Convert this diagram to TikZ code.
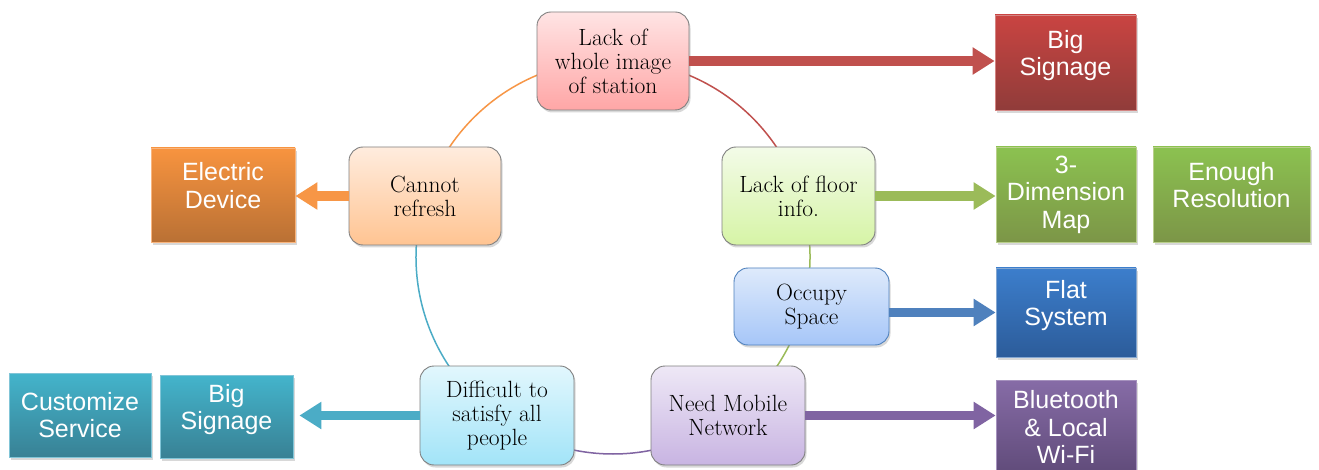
\documentclass[tikz,border=0pt]{standalone}
\usepackage{fontspec}
\newfontfamily\boxfont{Liberation Sans}
\usetikzlibrary{arrows.meta,shadows}

\definecolor{cRed}{HTML}{C0504D}
\definecolor{cGreen}{HTML}{9BBB59}
\definecolor{cBlue}{HTML}{4F81BD}
\definecolor{cPurple}{HTML}{8064A2}
\definecolor{cOrange}{HTML}{F79646}
\definecolor{cCyan}{HTML}{4BACC6}
\definecolor{flatT}{HTML}{3C7ECC}
\definecolor{flatB}{HTML}{2C5C9A}

% light fills of the problem boxes (top / bottom)
\definecolor{wholeT}{HTML}{FFE4E4}\definecolor{wholeB}{HTML}{FFA6A6}
\definecolor{floorT}{HTML}{F3FBE8}\definecolor{floorB}{HTML}{D6F4A6}
\definecolor{occT}{HTML}{DEEAFB}\definecolor{occB}{HTML}{A6C6F8}
\definecolor{mobT}{HTML}{EEE8F6}\definecolor{mobB}{HTML}{C8B4E2}
\definecolor{satT}{HTML}{E2F7FD}\definecolor{satB}{HTML}{A2E4F8}
\definecolor{refT}{HTML}{FFECDE}\definecolor{refB}{HTML}{FFC492}

% lift a block of lines above the box centre by #1
\newcommand\liftup[2][0pt]{\raisebox{0pt}[\height][\dimexpr\depth+2\dimexpr#1\relax\relax]{\begin{tabular}{@{}c@{}}#2\end{tabular}}}

\tikzset{
  issue/.style={rounded corners=14pt, draw=black!50, line width=0.9pt,
    align=center, inner sep=2pt,
    font=\fontsize{23.5}{24}\selectfont,
    drop shadow={shadow xshift=1.5pt, shadow yshift=-2.5pt, opacity=0.3}},
  answer/.style={align=center, inner sep=0pt, text=white, line width=0.8pt,
    font=\boxfont\fontsize{25}{27.5}\selectfont,
    drop shadow={shadow xshift=1.5pt, shadow yshift=-3pt, opacity=0.3}},
  fat/.style={line width=9.5pt, -{Triangle[length=22pt,width=26pt]}},
  ring/.style={line width=1.5pt}
}

\begin{document}
\begin{tikzpicture}[x=1pt,y=-1pt]
\useasboundingbox[fill=white] (0,0) rectangle (1319,470);

% the cycle of problems
\coordinate (hub) at (613,257);
\draw[ring,cOrange] (hub) ++(162:197pt) arc[start angle=162,end angle=90,radius=197pt];
\draw[ring,cRed]    (hub) ++(90:197pt)  arc[start angle=90,end angle=18,radius=197pt];
\draw[ring,cGreen]  (hub) ++(18:197pt)  arc[start angle=18,end angle=-54,radius=197pt];
\draw[ring,cPurple] (hub) ++(-54:197pt) arc[start angle=-54,end angle=-126,radius=197pt];
\draw[ring,cCyan]   (hub) ++(-126:197pt) arc[start angle=-126,end angle=-198,radius=197pt];

% problems
\node[issue, minimum width=152pt, minimum height=98pt,
  top color=wholeT, bottom color=wholeB] (whole) at (613,61)
  {Lack of\\whole image\\of station};
\node[issue, minimum width=153pt, minimum height=98pt,
  top color=floorT, bottom color=floorB] (floor) at (798.5,196)
  {Lack of floor\\info.};
\node[issue, draw=cBlue, minimum width=155pt, minimum height=77pt,
  top color=occT, bottom color=occB] (occupy) at (811.5,306.5)
  {Occupy\\Space};
\node[issue, minimum width=154pt, minimum height=99pt,
  top color=mobT, bottom color=mobB] (mobile) at (728,415.5)
  {Need Mobile\\Network};
\node[issue, minimum width=154pt, minimum height=99pt,
  top color=satT, bottom color=satB] (satisfy) at (497,415.5)
  {Difficult to\\satisfy all\\people};
\node[issue, minimum width=152pt, minimum height=98pt,
  top color=refT, bottom color=refB] (refresh) at (425,196)
  {Cannot\\refresh};

% solutions
\node[answer, minimum width=141pt, minimum height=95pt, draw=cRed!70!white,
  top color=cRed!85!red, bottom color=cRed!75!black] (signR) at (1065.5,62.5)
  {\liftup[6pt]{Big\\Signage}};
\node[answer, minimum width=140pt, minimum height=95pt, draw=cGreen!70!white,
  top color=cGreen!90!green, bottom color=cGreen!80!black] (map) at (1066,194.5)
  {3-\\Dimension\\Map};
\node[answer, minimum width=157pt, minimum height=95pt, draw=cGreen!70!white,
  top color=cGreen!90!green, bottom color=cGreen!80!black] (resol) at (1231.5,194.5)
  {\liftup[6pt]{Enough\\Resolution}};
\node[answer, minimum width=140pt, minimum height=89pt, draw=cBlue!70!white,
  top color=flatT, bottom color=flatB] (flat) at (1066,312.5)
  {\liftup[6pt]{Flat\\System}};
\node[answer, minimum width=140pt, minimum height=94pt, draw=cPurple!70!white,
  top color=cPurple!95!white, bottom color=cPurple!75!black] (blue) at (1066,427)
  {Bluetooth\\\& Local\\Wi-Fi};
\node[answer, minimum width=144pt, minimum height=94pt, draw=cOrange!70!white,
  top color=cOrange!90!orange, bottom color=cOrange!75!black] (device) at (223,195)
  {\liftup[6pt]{Electric\\Device}};
\node[answer, minimum width=133pt, minimum height=83pt, draw=cCyan!70!white,
  top color=cCyan!90!cyan, bottom color=cCyan!75!black] (signL) at (226.5,416.5)
  {\liftup[6pt]{Big\\Signage}};
\node[answer, minimum width=142pt, minimum height=84pt, draw=cCyan!70!white,
  top color=cCyan!90!cyan, bottom color=cCyan!75!black] (custom) at (80,415)
  {Customize\\Service};

% arrows from problems to solutions
\draw[fat,cRed]    (whole.east) -- (whole.east -| signR.west);
\draw[fat,cGreen]  (floor.east) -- (floor.east -| map.west);
\draw[fat,cBlue]   (occupy.east |- flat.west) -- (flat.west);
\draw[fat,cPurple] (mobile.east) -- (mobile.east -| blue.west);
\draw[fat,cOrange] (refresh.west) -- (refresh.west -| device.east);
\draw[fat,cCyan,shorten >=6pt] (satisfy.west) -- (satisfy.west -| signL.east);
\end{tikzpicture}
\end{document}
